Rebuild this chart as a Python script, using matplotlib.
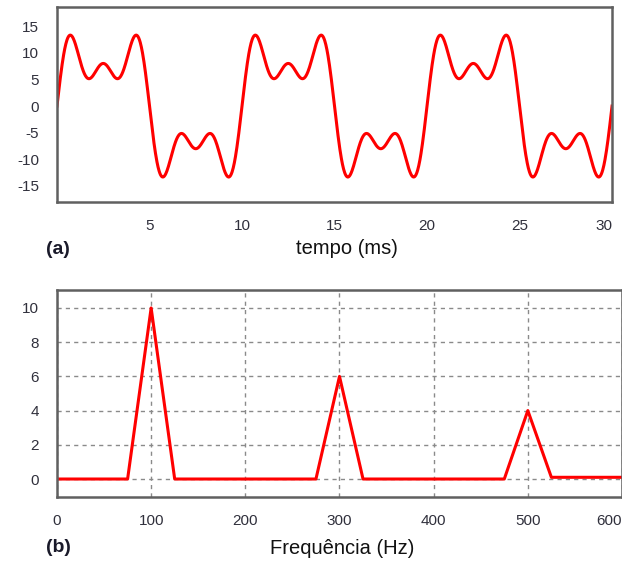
import numpy as np
import matplotlib.pyplot as plt

plt.rcParams['font.family'] = ['Liberation Sans', 'DejaVu Sans']
plt.rcParams['axes.unicode_minus'] = False

# components of the signal (in panel b)
harm_freq = [100, 300, 500]      # Hz
harm_amp = [10, 6, 4]

# spectrum samples (25 Hz steps)
freq = [0, 25, 50, 75, 100, 125, 150, 175, 200, 225, 250, 275, 300,
        325, 350, 375, 400, 425, 450, 475, 500, 525, 550, 575, 600]
mag = [0, 0, 0, 0, 10, 0, 0, 0, 0, 0, 0, 0, 6,
       0, 0, 0, 0, 0, 0, 0, 4, 0.1, 0.1, 0.1, 0.1]

t_ms = np.linspace(0, 30, 1500)
sig = sum(a * np.sin(2 * np.pi * f * t_ms / 1000) for f, a in zip(harm_freq, harm_amp))

tick_col = '#30303c'
spine_col = '#606060'

fig = plt.figure(figsize=(6.22, 5.62), dpi=100)

# (a) time signal
ax1 = fig.add_axes([0.0916, 0.6406, 0.8924, 0.347])
ax1.plot(t_ms, sig, color='#ff0000', lw=2.2)
ax1.set_xlim(0, 30)
ax1.set_ylim(-18, 18.6)
ax1.set_xticks([5, 10, 15, 20, 25, 30])
ax1.set_yticks([-15, -10, -5, 0, 5, 10, 15])

# (b) spectrum
ax2 = fig.add_axes([0.0916, 0.1157, 0.9084, 0.3683])
ax2.plot(freq, mag, color='#ff0000', lw=2.2)
ax2.set_xlim(0, 600)
ax2.set_ylim(-1.05, 11.05)
ax2.set_xticks([0, 100, 200, 300, 400, 500, 600])
ax2.set_yticks([0, 2, 4, 6, 8, 10])
ax2.grid(True, linestyle=(0, (3, 3)), color='#8a8a8a', lw=1)

for ax in (ax1, ax2):
    ax.tick_params(length=0, labelsize=11, colors=tick_col)
    ax.tick_params(axis='x', pad=12)
    ax.tick_params(axis='y', pad=13)
    for s in ax.spines.values():
        s.set_color(spine_col)
        s.set_linewidth(1.8)

# keep the last x label inside the figure
for ax in (ax1, ax2):
    ax.get_xticklabels()[-1].set_horizontalalignment('right')

fig.text(347 / 622, 1 - 248 / 562, 'tempo (ms)', ha='center', va='center', fontsize=14.5, color='#111111')
fig.text(58 / 622, 1 - 250 / 562, '(a)', ha='center', va='center', fontsize=14, fontweight='bold', color='#1a1a2a')
fig.text(342 / 622, 1 - 548 / 562, 'Frequência (Hz)', ha='center', va='center', fontsize=14.5, color='#111111')
fig.text(58 / 622, 1 - 548 / 562, '(b)', ha='center', va='center', fontsize=14, fontweight='bold', color='#1a1a2a')

fig.savefig('out.png', dpi=100)
